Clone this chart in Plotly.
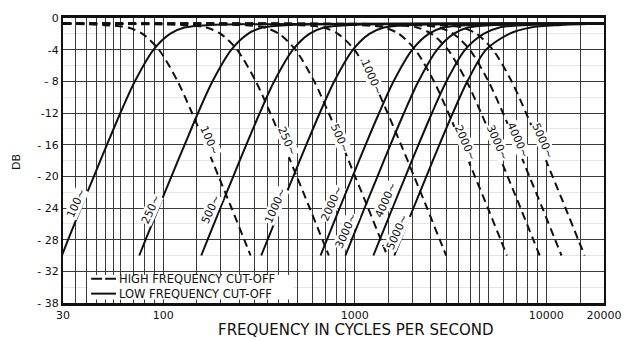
import math
import plotly.graph_objects as go

# ---- data -------------------------------------------------------------
# Levels (dB) at which each low-frequency cut-off (solid) curve was read,
# followed by the flat top reached at 20000 c/s.
solid_levels = [-30, -28, -24, -20, -16, -12, -8, -4, -2, -1.2, -0.9, -0.7]

# Frequencies at which each solid curve passes the levels above
solid_names = ["100~", "250~", "500~", "1000~", "2000~", "3000~", "4000~", "5000~"]
solid_s100 = [29.6, 31.9, 37.2, 43.5, 50.9, 59.8, 71.2, 89.1, 108.5, 129, 170, 20000]
solid_s250 = [75, 81, 94.5, 110.5, 129.5, 152, 181, 227, 277, 330, 435, 20000]
solid_s500 = [158, 170.6, 198.8, 232.3, 271.7, 319.3, 380, 475.8, 579.3, 690, 909, 20000]
solid_s1000 = [325, 351, 409, 478, 559, 657, 782, 979, 1192, 1420, 1870, 20000]
solid_s2000 = [663, 716, 834, 975, 1140, 1340, 1595, 1997, 2432, 2897, 3815, 20000]
solid_s3000 = [894, 965, 1125, 1315, 1537, 1807, 2151, 2692, 3278, 3905, 5143, 20000]
solid_s4000 = [1251, 1351, 1575, 1840, 2152, 2529, 3011, 3769, 4700, 5700, 7600, 20000]
solid_s5000 = [1609, 1737, 2025, 2366, 2767, 3252, 3871, 4846, 6400, 8300, 11500, 20000]
solid_freqs = [solid_s100, solid_s250, solid_s500, solid_s1000,
               solid_s2000, solid_s3000, solid_s4000, solid_s5000]

# Levels (dB) for the high-frequency cut-off (dashed) curves, from 30 c/s up
dashed_levels = [-0.7, -0.9, -1.2, -2, -4, -8, -12, -16, -20, -24, -28, -30]
dashed_names = ["100~", "250~", "500~", "1000~", "2000~", "3000~", "4000~", "5000~"]
dashed_d100 = [30, 49.7, 65.5, 78, 95, 119, 141.5, 166.4, 194.6, 227.4, 265, 286]
dashed_d250 = [30, 127.3, 167.6, 199.7, 243, 304.4, 362.2, 425.8, 497.9, 581.9, 678, 732]
dashed_d500 = [30, 257, 338, 403, 490, 614, 731, 859, 1004, 1174, 1368, 1478]
dashed_d1000 = [30, 522, 686, 818, 995, 1247, 1484, 1744, 2040, 2384, 2778, 3000]
dashed_d2000 = [30, 1083, 1426, 1699, 2068, 2590, 3082, 3623, 4236, 4951, 5769, 6231]
dashed_d3000 = [30, 1605, 2112, 2517, 3063, 3837, 4566, 5367, 6276, 7335, 8547, 9231]
dashed_d4000 = [30, 2087, 2746, 3272, 3982, 4988, 5936, 6977, 8159, 9536, 11111, 12000]
dashed_d5000 = [30, 2755, 3626, 4321, 5258, 6587, 7838, 9213, 10774, 12592, 14672, 15847]
dashed_freqs = [dashed_d100, dashed_d250, dashed_d500, dashed_d1000,
                dashed_d2000, dashed_d3000, dashed_d4000, dashed_d5000]

# Where the curve names are written (frequency, dB)
solid_label_freq = [35.1, 86.4, 177.5, 387, 759, 907, 1447, 1663]
solid_label_db = [-23.4, -24.2, -24.2, -23.7, -23.4, -26.9, -23.0, -27.1]
dashed_label_freq = [174, 441, 838, 1229, 3770, 5553, 7047, 9538]
dashed_label_db = [-15.5, -15.5, -15.2, -7.5, -15.7, -15.7, -15.4, -15.5]

# Axis ticks / grid
grid_freqs = [30, 35, 40, 45, 50, 55, 60, 70, 80, 90, 100,
              150, 200, 250, 300, 350, 400, 450, 500, 600, 700, 800, 900, 1000,
              1500, 2000, 2500, 3000, 3500, 4000, 4500, 5000, 6000, 7000, 8000, 9000,
              10000, 15000, 20000]
labelled_freqs = {30: "30", 100: "100", 1000: "1000", 10000: "10000", 20000: "20000"}
db_ticks = [0, -4, -8, -12, -16, -20, -24, -28, -32, -36]
db_tick_text = ["0", "-4", "- 8", "-12", "- 16", "- 20", "- 24", "- 28", "- 32", "- 38"]
db_minor = [-2, -6, -10, -14, -18, -22, -26, -30, -34]

legend_high = "HIGH FREQUENCY CUT-OFF"
legend_low = "LOW FREQUENCY CUT-OFF"
x_title = "FREQUENCY IN CYCLES PER SECOND"
y_title = "DB"

# ---- figure -----------------------------------------------------------
FONT = "DejaVu Sans"
INK = "#111111"
DASH = "8px,5px"

fig = go.Figure()

for name, fx in zip(solid_names, solid_freqs):
    fig.add_trace(go.Scatter(
        x=fx, y=solid_levels, mode="lines", name=name, showlegend=False,
        line=dict(color=INK, width=2, shape="spline", smoothing=0.8),
        hoverinfo="skip"))

for name, fx in zip(dashed_names, dashed_freqs):
    fig.add_trace(go.Scatter(
        x=fx, y=dashed_levels, mode="lines", name=name, showlegend=False,
        line=dict(color=INK, width=2, dash=DASH, shape="spline", smoothing=0.8),
        hoverinfo="skip"))

annotations = []
for name, f, db in zip(solid_names, solid_label_freq, solid_label_db):
    annotations.append(dict(
        x=math.log10(f), y=db, xref="x", yref="y", text=name, showarrow=False,
        textangle=-66, font=dict(family=FONT, size=11, color=INK),
        bgcolor="white", borderpad=0))
for name, f, db in zip(dashed_names, dashed_label_freq, dashed_label_db):
    annotations.append(dict(
        x=math.log10(f), y=db, xref="x", yref="y", text=name, showarrow=False,
        textangle=66, font=dict(family=FONT, size=11, color=INK),
        bgcolor="white", borderpad=0))

# axis titles
annotations.append(dict(
    x=0.541, y=-0.095, xref="paper", yref="paper", text=x_title, showarrow=False,
    xanchor="center", yanchor="middle", font=dict(family=FONT, size=15, color=INK)))
annotations.append(dict(
    x=-0.085, y=0.495, xref="paper", yref="paper", text=y_title, showarrow=False,
    textangle=-90, xanchor="center", yanchor="middle",
    font=dict(family=FONT, size=11, color=INK)))

# key in the lower-left corner
KEY_HIGH_Y = 0.0855
KEY_LOW_Y = 0.0329
annotations.append(dict(
    x=0.0993, y=KEY_HIGH_Y, xref="paper", yref="paper", text=legend_high,
    showarrow=False, xanchor="left", yanchor="middle",
    font=dict(family=FONT, size=11.5, color=INK)))
annotations.append(dict(
    x=0.0993, y=KEY_LOW_Y, xref="paper", yref="paper", text=legend_low,
    showarrow=False, xanchor="left", yanchor="middle",
    font=dict(family=FONT, size=11.5, color=INK)))

shapes = [
    dict(type="rect", xref="paper", yref="paper", x0=0.0455, x1=0.426,
         y0=0.012, y1=0.098, fillcolor="white", line=dict(width=0), layer="above"),
    dict(type="line", xref="paper", yref="paper", x0=0.052, x1=0.098,
         y0=KEY_HIGH_Y, y1=KEY_HIGH_Y, line=dict(color=INK, width=2, dash="11px,3px"),
         layer="above"),
    dict(type="line", xref="paper", yref="paper", x0=0.052, x1=0.098,
         y0=KEY_LOW_Y, y1=KEY_LOW_Y, line=dict(color=INK, width=2), layer="above"),
]

fig.update_layout(
    width=634, height=340,
    margin=dict(l=63, r=22, t=14, b=37),
    paper_bgcolor="white", plot_bgcolor="white",
    showlegend=False,
    annotations=annotations,
    shapes=shapes,
    xaxis=dict(
        type="log", range=[math.log10(30), math.log10(20000)],
        tickmode="array", tickvals=grid_freqs,
        ticktext=[labelled_freqs.get(f, "") for f in grid_freqs],
        ticks="", showgrid=True, gridcolor="#3a3a3a", gridwidth=1,
        showline=True, linecolor=INK, linewidth=2.5, mirror=True,
        tickfont=dict(family=FONT, size=11, color=INK), zeroline=False,
    ),
    yaxis=dict(
        range=[-36, 0], tickmode="array", tickvals=db_ticks, ticktext=db_tick_text,
        ticks="", showgrid=True, gridcolor="#3a3a3a", gridwidth=1,
        showline=True, linecolor=INK, linewidth=2, mirror=True,
        tickfont=dict(family=FONT, size=11, color=INK), zeroline=False,
        minor=dict(tickvals=db_minor, showgrid=True, gridcolor="#e4e4e4", gridwidth=1),
    ),
)

fig.write_html("out.html")
